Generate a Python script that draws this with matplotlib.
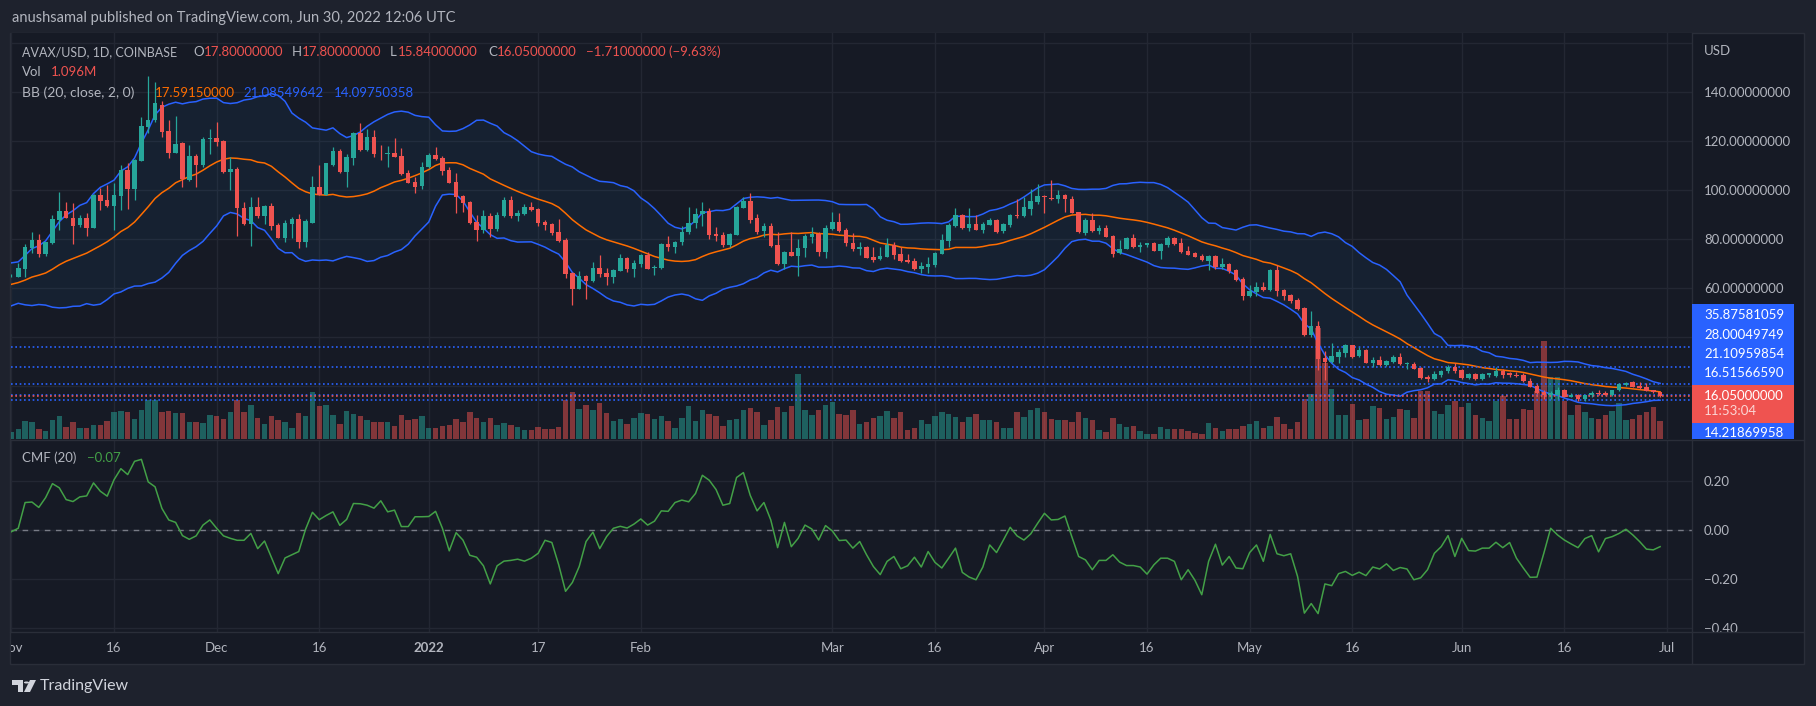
import numpy as np
import pandas as pd
import matplotlib
matplotlib.use("Agg")
import matplotlib.pyplot as plt
from matplotlib.patches import Rectangle, Polygon, Circle
from matplotlib.lines import Line2D
from matplotlib.transforms import Bbox, TransformedBbox, Affine2D, blended_transform_factory

W, H = 1816, 706

# AVAX/USD daily, day 0 = Nov 1 2021 ... day 241 = Jun 30 2022
opens = [
    64.9, 64.7, 68.0, 76.3, 79.7, 74.0, 78.3, 87.9, 91.5, 88.9,
    85.8, 88.7, 84.7, 98.1, 96.0, 93.6, 97.7, 108.3, 100.6, 112.1,
    126.0, 128.7, 134.8, 124.3, 115.3, 119.4, 104.2, 114.0, 110.3, 120.8,
    121.2, 120.1, 107.6, 108.7, 92.9, 86.2, 93.3, 89.5, 93.6, 85.8,
    80.6, 86.2, 88.1, 78.9, 86.8, 101.2, 98.1, 110.3, 116.2, 107.3,
    113.2, 123.2, 116.4, 121.6, 115.3, 114.8, 115.3, 114.0, 107.2, 103.4,
    101.7, 109.4, 114.4, 113.0, 108.3, 103.4, 97.7, 95.2, 87.0, 84.0,
    89.5, 84.3, 89.5, 96.0, 89.5, 90.3, 93.3, 92.2, 87.2, 86.2,
    83.0, 79.7, 66.1, 59.7, 65.0, 63.1, 68.1, 66.4, 64.7, 67.2,
    72.2, 68.0, 69.9, 73.7, 68.3, 68.3, 78.1, 77.0, 79.1, 83.1,
    86.5, 90.3, 91.4, 82.1, 81.6, 77.8, 81.9, 92.8, 95.7, 88.7,
    83.5, 85.4, 77.7, 69.9, 74.8, 73.2, 76.4, 81.1, 82.3, 74.9,
    84.2, 87.0, 83.8, 78.6, 75.9, 77.0, 72.9, 71.8, 72.9, 77.8,
    74.0, 71.5, 71.3, 68.0, 68.8, 69.6, 74.0, 79.4, 85.4, 89.9,
    84.6, 86.2, 83.8, 86.0, 87.9, 83.2, 86.0, 89.9, 89.5, 92.5,
    95.3, 97.7, 96.8, 96.3, 97.9, 96.6, 91.1, 82.4, 87.9, 83.2,
    84.6, 81.3, 74.3, 76.2, 80.5, 76.7, 77.5, 78.3, 75.3, 77.8,
    80.5, 78.3, 75.1, 74.5, 73.2, 71.3, 73.2, 68.8, 69.9, 67.4,
    63.6, 56.8, 58.5, 60.4, 59.3, 67.4, 59.3, 57.2, 55.2, 51.8,
    40.9, 44.6, 31.5, 30.0, 31.8, 33.7, 36.7, 32.3, 34.8, 29.6,
    30.7, 28.7, 30.0, 32.1, 29.1, 29.1, 27.4, 23.9, 22.8, 24.6,
    26.1, 28.0, 26.6, 23.5, 25.0, 23.0, 24.5, 24.3, 26.4, 25.3,
    24.7, 24.5, 22.0, 20.1, 17.7, 16.6, 16.3, 18.5, 15.7, 16.3,
    15.0, 16.3, 17.1, 17.4, 16.3, 18.5, 20.5, 21.7, 20.1, 19.6,
    18.5, 17.8]
highs = [
    65.8, 70.4, 78.1, 83.1, 82.0, 79.1, 89.9, 99.3, 95.3, 94.7,
    90.0, 90.6, 98.5, 100.8, 102.0, 102.8, 110.3, 111.0, 112.6, 129.8,
    146.6, 144.2, 136.6, 128.7, 130.3, 119.8, 118.5, 114.8, 121.6, 124.9,
    128.0, 120.5, 113.4, 109.4, 95.3, 97.1, 97.1, 94.0, 94.7, 86.8,
    87.9, 89.2, 90.3, 88.4, 105.8, 110.3, 111.3, 117.8, 116.7, 114.8,
    123.9, 127.6, 124.9, 124.6, 118.5, 118.1, 121.2, 117.1, 108.3, 105.5,
    111.7, 115.3, 117.8, 114.0, 109.4, 106.9, 98.1, 95.7, 89.9, 92.0,
    90.9, 91.3, 97.4, 97.7, 91.9, 94.4, 95.2, 92.6, 87.9, 86.8,
    88.1, 80.4, 66.8, 67.2, 65.3, 70.7, 73.6, 68.1, 67.7, 74.0,
    72.9, 71.5, 74.0, 74.9, 69.5, 78.3, 81.3, 79.4, 85.5, 93.3,
    92.6, 95.2, 92.9, 85.1, 83.1, 82.7, 93.6, 97.4, 99.0, 90.3,
    86.5, 86.5, 83.1, 75.3, 83.0, 80.1, 82.1, 85.1, 83.1, 85.8,
    91.0, 90.6, 84.5, 82.4, 78.9, 77.2, 77.0, 77.0, 80.5, 79.1,
    77.0, 74.0, 72.2, 70.9, 72.6, 74.9, 82.1, 86.8, 92.8, 90.3,
    92.8, 89.8, 87.2, 88.9, 88.2, 86.8, 90.3, 96.4, 97.1, 100.6,
    102.6, 98.0, 104.2, 100.1, 98.5, 97.7, 91.3, 88.7, 90.6, 85.7,
    85.7, 81.6, 79.7, 81.1, 82.1, 78.9, 78.6, 78.9, 78.3, 81.3,
    80.8, 80.4, 77.2, 74.8, 74.0, 73.4, 73.7, 72.3, 70.4, 68.0,
    64.7, 61.2, 62.7, 62.6, 67.8, 69.5, 59.8, 57.7, 55.9, 52.2,
    50.8, 46.8, 34.5, 37.8, 35.1, 37.2, 37.0, 35.9, 35.1, 32.1,
    32.3, 30.7, 32.6, 33.7, 30.0, 29.9, 28.0, 24.7, 26.4, 26.6,
    28.5, 29.4, 27.2, 25.3, 25.3, 25.3, 25.5, 27.7, 27.2, 25.8,
    25.8, 25.3, 23.4, 20.9, 18.5, 18.2, 19.6, 19.0, 17.1, 16.8,
    16.6, 18.2, 18.7, 17.9, 18.7, 21.5, 21.7, 22.0, 21.7, 21.2,
    18.7, 17.8]
lows = [
    64.5, 64.5, 64.7, 74.3, 72.6, 73.2, 78.1, 83.8, 88.5, 78.1,
    85.1, 81.3, 84.5, 91.9, 93.3, 84.0, 91.9, 92.2, 96.0, 112.1,
    123.2, 128.0, 121.9, 113.0, 115.1, 101.5, 103.9, 101.5, 109.6, 114.8,
    118.1, 106.9, 100.1, 81.3, 85.8, 77.2, 88.9, 86.2, 84.0, 80.4,
    79.0, 80.4, 76.3, 77.0, 86.6, 97.9, 97.9, 109.9, 107.2, 101.5,
    110.3, 116.2, 116.2, 113.7, 112.3, 109.6, 113.4, 106.4, 102.9, 98.7,
    100.4, 108.9, 112.3, 106.2, 102.8, 90.9, 91.3, 86.2, 79.4, 82.7,
    80.8, 83.5, 89.2, 88.9, 87.6, 89.9, 91.7, 85.4, 84.0, 81.7,
    79.0, 64.3, 53.2, 59.6, 55.7, 62.6, 64.7, 61.3, 62.3, 67.0,
    66.8, 64.7, 68.8, 67.7, 65.4, 67.7, 75.3, 74.5, 77.8, 82.1,
    84.7, 85.4, 80.2, 79.4, 77.0, 76.7, 81.6, 92.6, 86.8, 82.1,
    81.1, 77.0, 69.5, 67.7, 73.0, 65.1, 72.9, 78.6, 73.2, 72.2,
    83.8, 83.1, 77.2, 75.3, 73.7, 72.2, 70.9, 71.5, 72.6, 71.8,
    70.9, 70.4, 67.4, 66.1, 66.4, 68.5, 73.8, 77.0, 85.1, 84.3,
    83.5, 83.6, 82.4, 85.7, 82.4, 82.7, 84.9, 88.9, 89.2, 90.0,
    94.4, 90.6, 96.0, 94.9, 91.3, 90.6, 82.7, 81.7, 83.0, 82.1,
    80.8, 72.9, 74.0, 75.9, 76.4, 74.8, 77.0, 75.1, 72.1, 77.0,
    77.7, 74.5, 73.4, 72.6, 71.1, 67.4, 68.0, 68.0, 66.4, 63.0,
    55.2, 56.6, 56.8, 58.7, 59.0, 56.8, 55.2, 54.1, 51.1, 40.6,
    40.2, 26.6, 22.6, 29.6, 29.6, 32.1, 31.5, 32.1, 29.4, 28.0,
    28.3, 28.3, 29.4, 28.8, 27.2, 26.9, 23.1, 21.9, 22.6, 23.9,
    25.5, 25.5, 23.1, 23.1, 22.6, 22.6, 23.9, 23.9, 23.4, 23.9,
    23.6, 21.7, 19.6, 16.8, 14.7, 14.7, 14.7, 15.5, 15.5, 14.1,
    14.1, 15.7, 16.3, 16.3, 16.0, 18.2, 20.1, 19.6, 19.0, 17.9,
    17.4, 15.84]
closes = [
    65.2, 68.1, 76.7, 79.7, 74.0, 78.7, 88.1, 91.5, 88.9, 85.4,
    88.7, 84.7, 98.1, 95.7, 93.6, 98.1, 108.3, 100.6, 112.3, 126.2,
    128.7, 135.5, 123.9, 115.3, 119.1, 104.5, 114.0, 110.3, 120.9, 121.2,
    119.8, 107.3, 108.5, 92.9, 86.2, 93.3, 89.5, 93.6, 85.4, 80.6,
    86.5, 88.1, 78.9, 87.6, 101.2, 98.1, 111.0, 116.2, 107.3, 113.4,
    123.2, 116.4, 121.6, 114.8, 115.1, 115.3, 113.7, 106.6, 103.1, 101.5,
    109.4, 114.4, 112.8, 108.0, 103.1, 97.4, 95.0, 86.8, 84.0, 89.5,
    84.3, 89.9, 96.0, 89.5, 90.8, 93.3, 91.9, 86.8, 85.8, 82.7,
    79.4, 65.8, 59.7, 65.0, 63.1, 68.1, 65.8, 64.7, 67.4, 72.2,
    67.7, 70.2, 73.7, 68.0, 68.5, 78.1, 77.0, 79.1, 83.1, 86.5,
    90.3, 91.4, 81.9, 81.3, 77.8, 82.1, 93.3, 95.7, 87.9, 83.1,
    85.4, 77.2, 69.9, 74.8, 73.2, 76.4, 81.3, 82.3, 74.9, 84.5,
    87.0, 83.5, 78.6, 75.9, 77.0, 72.3, 71.5, 73.2, 77.8, 73.7,
    71.3, 70.7, 67.7, 69.1, 69.9, 74.5, 79.7, 85.8, 89.9, 84.6,
    86.2, 83.8, 86.2, 87.9, 83.0, 86.2, 90.0, 89.5, 93.3, 95.7,
    97.7, 97.1, 96.3, 98.2, 96.3, 90.8, 83.1, 87.9, 83.2, 84.6,
    81.1, 74.0, 76.2, 80.5, 76.7, 77.8, 78.3, 75.3, 78.1, 80.5,
    78.1, 74.8, 73.7, 72.9, 71.5, 73.2, 68.5, 69.9, 67.2, 63.4,
    56.8, 58.7, 60.4, 59.3, 67.4, 59.0, 56.8, 54.7, 51.4, 40.9,
    44.6, 31.0, 29.9, 32.3, 34.1, 36.7, 32.1, 34.8, 29.6, 30.7,
    28.7, 30.4, 32.1, 29.1, 29.4, 27.2, 23.4, 22.8, 25.0, 26.4,
    28.0, 26.4, 23.5, 25.0, 23.0, 25.0, 25.3, 26.4, 24.7, 24.5,
    24.2, 22.0, 19.8, 17.1, 16.3, 17.1, 18.5, 15.7, 16.6, 15.0,
    16.3, 17.4, 16.8, 16.6, 18.5, 20.9, 21.5, 19.8, 19.3, 18.2,
    17.7, 16.05]
# volume, millions
volumes = [
    0.40, 0.60, 1.10, 1.04, 0.60, 0.50, 1.16, 1.39, 0.72, 1.04,
    0.66, 0.66, 0.84, 0.84, 1.10, 1.59, 1.67, 1.59, 1.20, 1.75,
    2.35, 2.35, 1.59, 1.67, 1.55, 1.55, 1.04, 1.00, 0.96, 1.45,
    1.39, 1.20, 1.63, 2.31, 1.59, 2.05, 1.27, 0.92, 1.39, 1.16,
    1.00, 0.66, 1.55, 1.39, 2.79, 1.95, 2.05, 1.45, 0.92, 1.69,
    1.47, 1.35, 1.16, 1.00, 1.00, 1.00, 0.76, 1.45, 1.12, 1.20,
    1.39, 0.64, 0.68, 0.80, 0.86, 1.20, 1.04, 1.59, 1.26, 1.00,
    1.26, 0.86, 0.96, 0.84, 0.72, 0.56, 0.52, 0.72, 0.60, 0.60,
    0.72, 2.31, 2.83, 1.79, 2.05, 1.75, 2.15, 1.55, 1.08, 1.20,
    0.92, 1.26, 1.55, 1.49, 1.20, 1.39, 1.08, 0.68, 1.26, 1.99,
    1.08, 1.75, 1.51, 1.39, 0.80, 1.16, 1.20, 1.75, 1.87, 1.63,
    0.86, 1.16, 1.93, 1.63, 1.99, 3.90, 1.75, 1.45, 1.75, 2.05,
    2.19, 1.51, 1.45, 1.75, 0.92, 1.00, 1.27, 1.39, 1.69, 1.27,
    1.59, 0.52, 0.64, 1.16, 0.92, 1.39, 1.59, 1.51, 1.33, 1.00,
    1.33, 1.51, 1.12, 1.16, 1.04, 0.68, 0.68, 1.59, 1.33, 1.75,
    1.87, 1.63, 1.20, 1.12, 1.16, 1.04, 1.63, 1.27, 1.16, 0.56,
    0.44, 1.27, 0.92, 0.72, 0.80, 0.50, 0.32, 0.32, 0.72, 0.60,
    0.60, 0.60, 0.50, 0.36, 0.32, 0.96, 0.66, 0.50, 0.60, 0.60,
    0.80, 0.92, 1.10, 0.68, 0.80, 1.33, 0.92, 0.62, 1.04, 2.41,
    2.71, 6.65, 4.54, 2.99, 1.45, 1.45, 2.11, 1.16, 1.22, 1.99,
    1.87, 1.22, 1.33, 1.81, 1.75, 1.27, 2.89, 2.89, 1.69, 1.51,
    2.05, 2.29, 1.93, 2.17, 1.45, 1.27, 1.10, 2.29, 2.59, 1.22,
    1.22, 1.81, 1.75, 2.85, 5.88, 3.71, 3.71, 2.25, 1.45, 2.05,
    1.59, 1.27, 1.22, 1.45, 1.69, 2.17, 1.16, 1.22, 1.45, 1.63,
    1.93, 1.096]
cmf = [
    -0.007, 0.007, 0.112, 0.114, 0.092, 0.132, 0.189, 0.172, 0.124, 0.116,
    0.135, 0.139, 0.192, 0.158, 0.138, 0.205, 0.250, 0.226, 0.280, 0.288,
    0.196, 0.176, 0.088, 0.041, 0.031, -0.023, -0.038, -0.024, 0.020, 0.041,
    0.007, -0.024, -0.034, -0.042, -0.042, -0.014, -0.076, -0.045, -0.112, -0.178,
    -0.114, -0.101, -0.088, 0.003, 0.072, 0.042, 0.059, 0.074, 0.019, 0.043,
    0.108, 0.107, 0.101, 0.089, 0.119, 0.074, 0.081, 0.014, 0.014, 0.054,
    0.054, 0.055, 0.076, 0.007, -0.085, -0.011, -0.041, -0.103, -0.111, -0.146,
    -0.220, -0.146, -0.127, -0.124, -0.119, -0.127, -0.115, -0.095, -0.042, -0.051,
    -0.142, -0.250, -0.214, -0.149, -0.047, -0.009, -0.076, -0.027, 0.007, 0.015,
    0.008, 0.024, 0.045, 0.020, 0.036, 0.078, 0.076, 0.112, 0.122, 0.115,
    0.149, 0.223, 0.203, 0.165, 0.101, 0.108, 0.214, 0.234, 0.141, 0.078,
    0.112, 0.041, -0.072, 0.031, -0.068, -0.034, 0.020, 0.004, -0.041, 0.018,
    -0.004, -0.043, -0.041,
    -0.074, -0.047, -0.101, -0.149, -0.182, -0.128, -0.108, -0.158, -0.146, -0.111,
    -0.151, -0.088, -0.132, -0.155, -0.115, -0.074, -0.173, -0.192, -0.203, -0.151,
    -0.061, -0.092, -0.041, 0.011, -0.024, -0.041, -0.016, 0.027, 0.068, 0.041,
    0.043, 0.057, -0.027, -0.108, -0.122, -0.162, -0.124, -0.124, -0.101, -0.131,
    -0.145, -0.145, -0.151, -0.180, -0.142, -0.115, -0.115, -0.128, -0.203, -0.162,
    -0.205, -0.264, -0.128, -0.058, -0.143, -0.108, -0.155, -0.158, -0.092, -0.061,
    -0.128, -0.018, -0.097, -0.105, -0.097, -0.189, -0.339, -0.300, -0.341, -0.220,
    -0.227, -0.178, -0.169, -0.185, -0.172, -0.186, -0.151, -0.159, -0.138, -0.165,
    -0.153, -0.159, -0.203, -0.195, -0.162, -0.095, -0.068, -0.023, -0.108, -0.034,
    -0.084, -0.086, -0.074, -0.074, -0.050, -0.072, -0.051, -0.115, -0.155, -0.193,
    -0.192, -0.095, 0.007, -0.020, -0.041, -0.057, -0.072, -0.035, -0.023, -0.089,
    -0.035, -0.027, -0.014, 0.003, -0.020, -0.047, -0.078, -0.081, -0.068]
# closes before Nov 1, only used to warm up the 20-day bands at the left edge
warmup_closes = [54.0, 56.5, 55.0, 58.5, 61.0, 57.0, 55.5, 60.0, 63.0, 66.0,
                 63.5, 67.5, 66.0, 61.0, 59.5, 63.5, 68.5, 67.0, 64.5]

tick_days = [0, 15, 30, 45, 61, 77, 92, 120, 135, 151, 166, 181, 196, 212, 227, 242]
tick_labels = ["Nov", "16", "Dec", "16", "2022", "17", "Feb", "Mar", "16",
               "Apr", "16", "May", "16", "Jun", "16", "Jul"]
price_ticks = [20, 40, 60, 80, 100, 120, 140, 160]
cmf_ticks = [0.2, 0.0, -0.2, -0.4]
cmf_tick_labels = ["0.20", "0.00", "\u22120.20", "\u22120.40"]
blue_levels = [35.87581059, 28.00049749, 21.10959854, 16.51566590, 14.21869958]
last_close = 16.05

OUTER = "#1e222d"
BG = "#161a25"
GRID = "#232733"
BORDER = "#2a2e39"
TXT = "#b2b5be"
UP = "#26a69a"
DOWN = "#ef5350"
BLUE = "#2962ff"
ORANGE = "#ff6d00"
GREEN = "#43a047"
FS = 9.5

plt.rcParams["font.family"] = ["Lato", "DejaVu Sans"]

x = np.arange(len(closes))
o = np.array(opens)
c = np.array(closes)
colors = np.where(c >= o, UP, DOWN)

s = pd.Series(warmup_closes + closes)
n0 = len(warmup_closes)
basis = s.rolling(20).mean().values[n0:]
dev = s.rolling(20).std(ddof=0).values[n0:]
upper = basis + 2 * dev
lower = basis - 2 * dev

XMIN, XMAX = -0.06, 245.66


def frac(x0, y0, x1, y1):
    return [x0 / W, 1 - y1 / H, (x1 - x0) / W, (y1 - y0) / H]


fig = plt.figure(figsize=(W / 100, H / 100), dpi=100, facecolor=OUTER)
fig.add_artist(Rectangle((10 / W, 1 - 664 / H), 1794 / W, 631 / H, transform=fig.transFigure,
                         facecolor=BG, edgecolor=BORDER, lw=1, zorder=-1))

# price pane
ax = fig.add_axes(frac(11, 33, 1692, 439))
ax.set_facecolor(BG)
ax.set_xlim(XMIN, XMAX)
ax.set_ylim(-1.5, 164.2)
ax.set_xticks(tick_days)
ax.set_yticks(price_ticks)
ax.yaxis.tick_right()
ax.set_yticklabels(["%.8f" % v if 60 <= v <= 140 else "" for v in price_ticks])
ax.tick_params(axis="y", length=0, pad=8.6, labelsize=FS, labelcolor=TXT)
ax.tick_params(axis="x", length=0, labelbottom=False)
ax.grid(True, color=GRID, lw=1)
ax.set_axisbelow(True)
for sp in ax.spines.values():
    sp.set_visible(False)

# volume overlay in the lower part of the price pane
vol_trans = blended_transform_factory(ax.transData, Affine2D().scale(1, 1 / 24.3) + ax.transAxes)
ax.bar(x, volumes, width=0.8, color=colors, alpha=0.5, linewidth=0, transform=vol_trans, zorder=1)

ax.fill_between(x, upper, lower, color="#2196f3", alpha=0.06, lw=0, zorder=1.5)
ax.plot(x, basis, color=ORANGE, lw=1.1, zorder=2)
ax.plot(x, upper, color=BLUE, lw=1.1, zorder=2)
ax.plot(x, lower, color=BLUE, lw=1.1, zorder=2)

for lv in blue_levels:
    ax.axhline(lv, color=BLUE, lw=1.2, ls=(0, (1, 1.6)), zorder=2.5)
ax.axhline(last_close, color=DOWN, lw=1.2, ls=(0, (1, 1.6)), zorder=2.6)

ax.vlines(x, lows, highs, color=colors, lw=0.9, zorder=3)
ax.bar(x, np.maximum(np.abs(c - o), 0.3), bottom=np.minimum(o, c), width=0.66,
       color=colors, linewidth=0, zorder=4)

# CMF pane
axc = fig.add_axes(frac(11, 440, 1692, 632))
axc.set_facecolor(BG)
axc.plot(x, cmf, color=GREEN, lw=1.1, zorder=3)
axc.axhline(0, color="#787b86", lw=1, ls=(0, (4, 4)), zorder=2)
axc.set_xlim(XMIN, XMAX)
axc.set_ylim(-0.416, 0.367)
axc.set_yticks(cmf_ticks)
axc.yaxis.tick_right()
axc.set_yticklabels(cmf_tick_labels)
axc.set_xticks(tick_days)
axc.set_xticklabels(tick_labels)
axc.tick_params(axis="y", length=0, pad=8.6, labelsize=FS, labelcolor=TXT)
axc.tick_params(axis="x", length=0, pad=7, labelsize=FS, labelcolor=TXT)
axc.grid(True, color=GRID, lw=1)
axc.set_axisbelow(True)
for sp in axc.spines.values():
    sp.set_visible(False)
xl = axc.get_xticklabels()
xl[4].set_fontweight("bold")
xl[0].set_clip_box(TransformedBbox(Bbox.from_extents(11 / W, 0, 1692 / W, 1), fig.transFigure))
xl[0].set_clip_on(True)
yl = axc.get_yticklabels()
yl[-1].set_clip_box(TransformedBbox(Bbox.from_extents(1692 / W, 1 - 632 / H, 1, 1 - 440 / H),
                                    fig.transFigure))
yl[-1].set_clip_on(True)

# separators
for (x0, y0, x1, y1) in [(1692, 33, 1692, 664), (10, 439.5, 1804, 439.5), (10, 632, 1804, 632)]:
    fig.add_artist(Line2D([x0 / W, x1 / W], [1 - y0 / H, 1 - y1 / H], color=BORDER, lw=1,
                          transform=fig.transFigure))


def put(yp, parts):
    # parts: (left x in pixels, text, colour, font size)
    for xp, text, color, size in parts:
        fig.text(xp / W, 1 - yp / H, text, color=color, fontsize=size, va="center", ha="left")


fig.text(12 / W, 1 - 18 / H, "anushsamal published on TradingView.com, Jun 30, 2022 12:06 UTC",
         color=TXT, fontsize=10.5, va="center")
put(52, [(22, "AVAX/USD, 1D, COINBASE", TXT, 9.0), (193, "O", TXT, FS),
         (203.5, "17.80000000", DOWN, FS), (292, "H", TXT, FS), (301.5, "17.80000000", DOWN, FS),
         (390, "L", TXT, FS), (397.5, "15.84000000", DOWN, FS), (488.5, "C", TXT, FS),
         (497, "16.05000000", DOWN, FS), (585.5, "\u22121.71000000 (\u22129.63%)", DOWN, FS)])
put(72, [(22, "Vol", TXT, FS), (51, "1.096M", DOWN, FS)])
put(93, [(22, "BB (20, close, 2, 0)", TXT, 10.0), (155, "17.59150000", ORANGE, FS),
         (243, "21.08549642", BLUE, FS), (334, "14.09750358", BLUE, FS)])
put(458, [(22, "CMF (20)", TXT, FS), (87, "\u22120.07", GREEN, FS)])

fig.text(1704 / W, 1 - 51 / H, "USD", color=TXT, fontsize=FS, va="center")

# price tags on the right axis
for (y0, y1, col) in [(304, 385, BLUE), (385, 422.7, DOWN), (422.7, 439, BLUE)]:
    fig.add_artist(Rectangle((1692 / W, 1 - y1 / H), 102 / W, (y1 - y0) / H,
                             transform=fig.transFigure, facecolor=col, lw=0, zorder=5))
for (yp, label, col) in [(315, "35.87581059", "white"), (335, "28.00049749", "white"),
                         (354, "21.10959854", "white"), (373, "16.51566590", "white"),
                         (396, "16.05000000", "white"), (411, "11:53:04", "#fbd6d5"),
                         (433, "14.21869958", "white")]:
    fig.text(1704 / W, 1 - yp / H, label, color=col, fontsize=FS, va="center", zorder=6)

# TradingView logo
LOGO = "#d1d4dc"
fig.add_artist(Polygon([(12 / W, 1 - 680 / H), (23 / W, 1 - 680 / H), (23 / W, 1 - 692 / H),
                        (18 / W, 1 - 692 / H), (18 / W, 1 - 685 / H), (12 / W, 1 - 685 / H)],
                       closed=True, transform=fig.transFigure, facecolor=LOGO, lw=0))
fig.add_artist(Circle((26.5 / W, 1 - 682.5 / H), 2.6 / W, transform=fig.transFigure,
                      facecolor=LOGO, lw=0))
fig.add_artist(Polygon([(30 / W, 1 - 680 / H), (36 / W, 1 - 680 / H), (30 / W, 1 - 692 / H),
                        (24 / W, 1 - 692 / H)], closed=True, transform=fig.transFigure,
                       facecolor=LOGO, lw=0))
fig.text(40 / W, 1 - 686 / H, "TradingView", color=LOGO, fontsize=11.5, va="center")

fig.savefig("out.png", dpi=100, facecolor=OUTER)
